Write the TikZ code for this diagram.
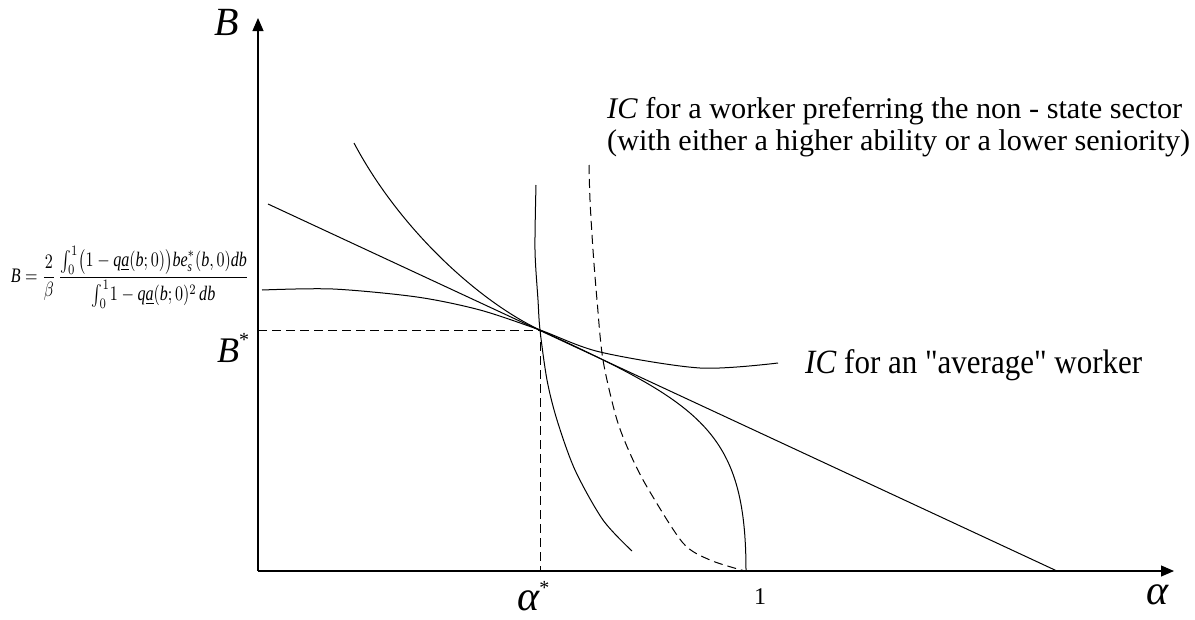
\documentclass[tikz,border=0pt]{standalone}
\usepackage{amsmath}
\usepackage{fontspec}
\usepackage{graphicx}
\setmainfont{Liberation Serif}
\newfontfamily\qfont{Liberation Serif}
\usetikzlibrary{arrows.meta}
\newcommand\mi[1]{\textit{#1}}
\begin{document}
\begin{tikzpicture}[x=1pt,y=-1pt,
  curve/.style={line width=1pt},
  guide/.style={line width=1pt, dash pattern=on 9pt off 5pt},
  axis/.style={line width=1.1pt,-{Triangle[length=13pt,width=11pt]}},
  lbl/.style={inner sep=0pt, anchor=base west}]
\useasboundingbox (0,0) rectangle (1195,619);
\coordinate (O) at (258,571);
\coordinate (ytip) at (258,18);
\coordinate (xtip) at (1174,571);
\coordinate (E) at (540,330);
\coordinate (Bs) at (258,330);
\coordinate (As) at (540,571);
\coordinate (L1) at (268,204);
\coordinate (L2) at (1057,571);
\coordinate (S0) at (354,143);
\coordinate (S1) at (746,571);
\draw[axis] (O) -- (ytip);
\draw[axis] (O) -- (xtip);
\draw[guide] (Bs) -- (E) -- (As);
\draw[curve] (L1) -- (L2);
% average IC
\draw[curve] plot[smooth] coordinates {(262,290) (333,289) (417,297) (480,310) (540,330) (600,352) (700,368) (778,363)};
% steep S curve
\draw[curve] (S0) .. controls (400,230) and (480,302) .. (E)
             .. controls (700,404) and (746,430) .. (S1);
% near vertical curve
\draw[curve] plot[smooth] coordinates {(536,185) (535,250) (538,300) (540,330) (547,380) (557,420) (575,470) (603,520) (632,551)};
% dashed curve
\draw[guide] plot[smooth] coordinates {(589,165) (590,200) (593,250) (597,300) (603,360) (617,420) (633,460) (650,492) (683,543) (710,560) (745,571)};
% labels
\node[lbl] (Blab) at (214,35) {\fontsize{40}{40}\selectfont\itshape B};
\node[lbl] (Bstar) at (217,362) {\fontsize{36}{36}\selectfont\itshape B\raisebox{0.42em}{\fontsize{20}{20}\selectfont\upshape *}};
\node[lbl] (astar) at (517,610) {\fontsize{42}{42}\selectfont\itshape α\raisebox{0.38em}{\fontsize{20}{20}\selectfont\upshape *}};
\node[lbl] (one) at (754,604) {\fontsize{24}{24}\selectfont 1};
\node[lbl] (alab) at (1146,604) {\fontsize{42}{42}\selectfont\itshape α};
\node[anchor=east, inner sep=0pt] (F) at (249,277) {\resizebox*{238pt}{62pt}{$\displaystyle\mi{B}=\frac{2}{\beta}\,\frac{{\textstyle\int_0^1}\bigl(1-\mi{q}\underline{\mi{a}}(\mi{b};0)\bigr)\mi{be}^{*}_{\mi{s}}(\mi{b},0)\mi{db}}{{\textstyle\int_0^1} 1-\mi{q}\underline{\mi{a}}(\mi{b};0)^2\,\mi{db}}$}};
\node[lbl] (ic1) at (607,118) {\resizebox{575pt}{\height}{\fontsize{30}{30}\selectfont\textit{IC} for a worker preferring the non - state sector}};
\node[lbl] (ic2) at (607,150) {\resizebox{583pt}{\height}{\fontsize{30}{30}\selectfont (with either a higher ability or a lower seniority)}};
\node[lbl] (ic3) at (805,373) {\resizebox{337pt}{\height}{\fontsize{34}{34}\selectfont\qfont\textit{IC} for an "average" worker}};
\end{tikzpicture}
\end{document}
